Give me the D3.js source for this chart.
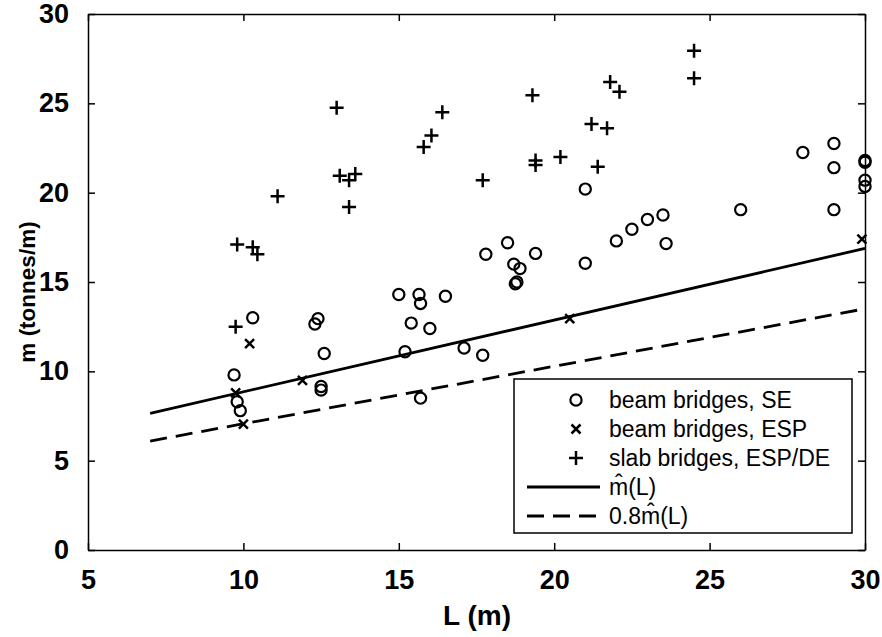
<!DOCTYPE html>
<meta charset="utf-8">
<style>
body { margin: 0; background: #fff; }
svg { font-family: "Liberation Sans", Arial, sans-serif; }
.tick text { font-family: "Liberation Sans Narrow", "Arial Narrow", "Liberation Sans", sans-serif; font-size: 27px; font-weight: bold; }
.xlabel { font-size: 28px; font-weight: bold; }
.ylabel { font-size: 22.5px; font-weight: bold; }
.legend text { font-size: 23px; }
</style>
<body>
<script src="https://cdn.jsdelivr.net/npm/d3@7/dist/d3.min.js"></script>
<script>

// ---- data ----
// beam bridges, SE (circles)
var seL = [9.7, 9.8, 9.9, 10.3, 12.3, 12.4, 12.6, 12.5, 12.5, 15.0, 15.65, 15.7, 15.4, 16.0,
           15.2, 16.5, 17.1, 17.7, 15.7, 17.8, 18.5, 18.7, 18.9, 18.75, 18.8, 19.4, 21.0, 21.0,
           22.0, 22.5, 23.0, 23.5, 23.6, 26.0, 28.0, 29.0, 29.0, 29.0, 30, 30, 30, 30]
var seM = [9.8, 8.3, 7.8, 13.0, 12.65, 12.95, 11.0, 9.15, 8.95, 14.3, 14.3, 13.8, 12.7, 12.4,
           11.1, 14.2, 11.3, 10.9, 8.5, 16.55, 17.2, 16.0, 15.75, 14.9, 15.0, 16.6, 20.2, 16.05,
           17.3, 17.95, 18.5, 18.75, 17.15, 19.05, 22.25, 22.75, 21.4, 19.05, 21.8, 21.7, 20.7, 20.35]

// beam bridges, ESP (x)
var espL = [9.75, 10.0, 10.2, 11.9, 20.5, 29.9]
var espM = [8.8, 7.05, 11.55, 9.5, 12.95, 17.4]

// slab bridges, ESP/DE (+)
var slabL = [9.75, 9.8, 10.3, 10.45, 11.1, 13.0, 13.1, 13.6, 13.4, 13.4, 15.8, 16.05, 16.4,
             17.7, 19.3, 19.4, 19.4, 20.2, 21.2, 21.7, 21.4, 21.8, 22.1, 24.5, 24.5]
var slabM = [12.5, 17.1, 16.95, 16.55, 19.8, 24.75, 20.95, 21.05, 20.7, 19.2, 22.55, 23.2, 24.5,
             20.7, 25.45, 21.8, 21.55, 22.0, 23.85, 23.6, 21.45, 26.2, 25.65, 27.95, 26.4]

// fitted line m^(L) and 0.8 m^(L)
var fitL = [7, 30]
var fitM = [7.65, 16.88]
var lowM = [6.1, 13.5]

var xTicks = [5, 10, 15, 20, 25, 30]
var yTicks = [0, 5, 10, 15, 20, 25, 30]

var legendLabels = ['beam bridges, SE', 'beam bridges, ESP', 'slab bridges, ESP/DE', 'm\u0302(L)', '0.8m\u0302(L)']

// ---- layout ----
var width = 882
var height = 637
var margin = {top: 14, right: 17, bottom: 87, left: 88}
var w = width - margin.left - margin.right
var h = height - margin.top - margin.bottom

var svg = d3.select('body').append('svg')
    .attr('width', width)
    .attr('height', height)

var x = d3.scaleLinear().domain([5, 30]).range([0, w])
var y = d3.scaleLinear().domain([0, 30]).range([h, 0])

var g = svg.append('g')
    .attr('transform', 'translate(' + margin.left + ',' + margin.top + ')')

// axes: ticks inside, box on all four sides
function styleAxis(sel) {
    sel.select('.domain').attr('stroke', '#000').attr('stroke-width', 1.5)
    sel.selectAll('.tick line').attr('stroke', '#000').attr('stroke-width', 1.5)
}

g.append('g')
    .attr('transform', 'translate(0,' + h + ')')
    .call(d3.axisBottom(x).tickValues(xTicks).tickSizeInner(-7).tickSizeOuter(0).tickPadding(20))
    .call(styleAxis)
    .selectAll('text').attr('fill', '#000')

g.append('g')
    .call(d3.axisLeft(y).tickValues(yTicks).tickSizeInner(-7).tickSizeOuter(0).tickPadding(19))
    .call(styleAxis)
    .selectAll('text').attr('fill', '#000')

g.append('g')
    .call(d3.axisTop(x).tickValues(xTicks).tickSizeInner(-7).tickSizeOuter(0).tickFormat(''))
    .call(styleAxis)

g.append('g')
    .attr('transform', 'translate(' + w + ',0)')
    .call(d3.axisRight(y).tickValues(yTicks).tickSizeInner(-7).tickSizeOuter(0).tickFormat(''))
    .call(styleAxis)

// axis labels
svg.append('text')
    .attr('class', 'xlabel')
    .attr('x', 477)
    .attr('y', 625)
    .attr('text-anchor', 'middle')
    .text('L (m)')

svg.append('text')
    .attr('class', 'ylabel')
    .attr('transform', 'translate(35,' + 292 + ') rotate(-90)')
    .attr('text-anchor', 'middle')
    .text('m (tonnes/m)')

// fitted lines
var line = d3.line()
    .x(function (d) { return x(d[0]) })
    .y(function (d) { return y(d[1]) })

g.append('path')
    .datum(d3.zip(fitL, fitM))
    .attr('d', line)
    .attr('fill', 'none')
    .attr('stroke', '#000')
    .attr('stroke-width', 2.8)

g.append('path')
    .datum(d3.zip(fitL, lowM))
    .attr('d', line)
    .attr('fill', 'none')
    .attr('stroke', '#000')
    .attr('stroke-width', 2.8)
    .attr('stroke-dasharray', '17,9')

// marker shapes
function circleMark(sel) {
    sel.append('circle').attr('r', 5.6)
        .attr('fill', 'none').attr('stroke', '#000').attr('stroke-width', 2.2)
}
function crossMark(sel) {
    sel.append('path').attr('d', 'M-4.5,-4.5L4.5,4.5M-4.5,4.5L4.5,-4.5')
        .attr('stroke', '#000').attr('stroke-width', 2.5)
}
function plusMark(sel) {
    sel.append('path').attr('d', 'M-7,0L7,0M0,-7L0,7')
        .attr('stroke', '#000').attr('stroke-width', 2.5)
}

function scatter(Ls, Ms, mark) {
    g.append('g').selectAll('g')
        .data(d3.zip(Ls, Ms))
        .enter().append('g')
        .attr('transform', function (d) { return 'translate(' + x(d[0]) + ',' + y(d[1]) + ')' })
        .call(mark)
}

scatter(seL, seM, circleMark)
scatter(espL, espM, crossMark)
scatter(slabL, slabM, plusMark)

// legend
var legend = svg.append('g').attr('class', 'legend')

legend.append('rect')
    .attr('x', 514).attr('y', 379)
    .attr('width', 338).attr('height', 154)
    .attr('fill', '#fff')
    .attr('stroke', '#000')
    .attr('stroke-width', 1.5)

var rowY = [400, 429, 458, 487, 516]
var marks = [circleMark, crossMark, plusMark]

legendLabels.forEach(function (label, i) {
    var row = legend.append('g').attr('transform', 'translate(0,' + rowY[i] + ')')
    if (i < 3) {
        row.append('g').attr('transform', 'translate(576,0)').call(marks[i])
    } else {
        row.append('line')
            .attr('x1', 527).attr('x2', 600)
            .attr('stroke', '#000').attr('stroke-width', 2.8)
            .attr('stroke-dasharray', i === 4 ? '17,9' : null)
    }
    row.append('text')
        .attr('x', 609)
        .attr('dy', '0.36em')
        .text(label)
})

</script>
</body>
